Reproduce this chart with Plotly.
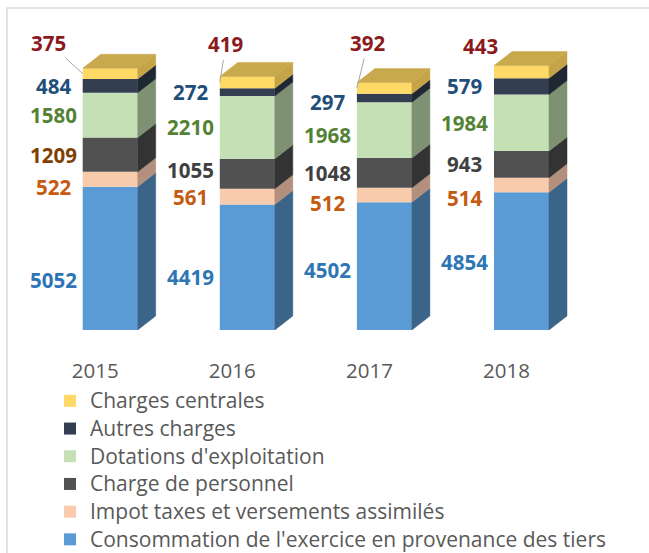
import plotly.graph_objects as go

# ---- data -------------------------------------------------------------
years = ["2015", "2016", "2017", "2018"]
consommation = [5052, 4419, 4502, 4854]
impot = [522, 561, 512, 514]
personnel = [1209, 1055, 1048, 943]
dotations = [1580, 2210, 1968, 1984]
autres = [484, 272, 297, 579]
centrales = [375, 419, 392, 443]

series_names = [
    "Consommation de l'exercice en provenance des tiers",
    "Impot taxes et versements assimilés",
    "Charge de personnel",
    "Dotations d'exploitation",
    "Autres charges",
    "Charges centrales",
]
series_values = [consommation, impot, personnel, dotations, autres, centrales]

# ---- styling ----------------------------------------------------------
front_colors = ["#5b9bd5", "#f8cbad", "#515151", "#c5e0b4", "#333f50", "#ffd966"]
side_colors = ["#3a6488", "#b38f7e", "#333333", "#7f9173", "#1f2733", "#c4a447"]
top_color = "#c8a94c"
label_colors = [
    ["#2e75b6"] * 4,
    ["#c55a11"] * 4,
    ["#7f3f00", "#404040", "#404040", "#404040"],
    ["#548235"] * 4,
    ["#1f4e79"] * 4,
    ["#8b1a1e"] * 4,
]
# small vertical nudges (px, downward) for a few value labels
label_nudge = {
    (0, 0): 22, (0, 1): 10, (0, 2): 4, (0, 3): 1,
    (1, 0): 8, (1, 2): 8, (1, 3): 13,
    (2, 1): -4,
    (3, 2): 5, (4, 2): 4,
}
# pixel offsets of the top labels from their leader-line anchors
top_label_offsets = [(-34, -31), (6, -38), (11, -45), (-14, -26)]
top_label_leader = [True, True, True, False]

FONT = "Open Sans"
TEXT_GREY = "#595959"
LEGEND_TEXT_PX = 21

# ---- geometry ---------------------------------------------------------
W, H = 649, 553
M_L, M_R, M_T, M_B = 10, 10, 20, 223
PLOT_W = W - M_L - M_R
PLOT_H = H - M_T - M_B
CAT_PX = 137.1          # pixels between categories
UNIT_PER_PX = 35.24     # value units per vertical pixel
FIRST_CENTER_PX = 110.2
X0 = -(FIRST_CENTER_PX - M_L) / CAT_PX
X1 = X0 + PLOT_W / CAT_PX
Y1 = PLOT_H * UNIT_PER_PX

BAR_W = 55 / CAT_PX
DEPTH_X = 18 / CAT_PX
DEPTH_Y = 14 * UNIT_PER_PX
TICK_SHIFT = 15 / CAT_PX


def paper_x(px):
    return (px - M_L) / PLOT_W


def paper_y(py):
    return (H - M_B - py) / PLOT_H


xpos = list(range(len(years)))

fig = go.Figure()

# front faces
bases = [[0] * len(years)]
for k, (name, vals) in enumerate(zip(series_names, series_values)):
    fig.add_trace(go.Bar(
        x=xpos, y=vals, base=bases[k], width=BAR_W,
        name='<span style="font-size:%dpx">%s</span>' % (LEGEND_TEXT_PX, name),
        marker=dict(color=front_colors[k], line=dict(width=0)),
        hoverinfo="skip",
    ))
    bases.append([b + v for b, v in zip(bases[k], vals)])

# side faces of each stacked segment
for k, vals in enumerate(series_values):
    xs, ys = [], []
    for i in xpos:
        xr = i + BAR_W / 2
        b = bases[k][i]
        t = b + vals[i]
        xs += [xr, xr + DEPTH_X, xr + DEPTH_X, xr, xr, None]
        ys += [b, b + DEPTH_Y, t + DEPTH_Y, t, b, None]
    fig.add_trace(go.Scatter(
        x=xs, y=ys, mode="lines", fill="toself",
        fillcolor=side_colors[k], line=dict(color=side_colors[k], width=0.5),
        showlegend=False, hoverinfo="skip",
    ))

# top faces
xs, ys = [], []
for i in xpos:
    xl, xr = i - BAR_W / 2, i + BAR_W / 2
    t = bases[-1][i]
    xs += [xl, xl + DEPTH_X, xr + DEPTH_X, xr, xl, None]
    ys += [t, t + DEPTH_Y, t + DEPTH_Y, t, t, None]
fig.add_trace(go.Scatter(
    x=xs, y=ys, mode="lines", fill="toself", fillcolor=top_color,
    line=dict(color=top_color, width=0.5), showlegend=False, hoverinfo="skip",
))

# helper trace carrying the category axis
fig.add_trace(go.Scatter(
    x=xpos, y=[0 for _ in years], xaxis="x2", mode="none",
    showlegend=False, hoverinfo="skip",
))

# value labels
annotations = []
last = len(series_values) - 1
for k, vals in enumerate(series_values):
    for i in xpos:
        mid = bases[k][i] + vals[i] / 2
        font = dict(family=FONT, size=20.5, color=label_colors[k][i])
        text = "<b>%d</b>" % vals[i]
        if k == last:
            ax, ay = top_label_offsets[i]
            annotations.append(dict(
                x=i - BAR_W / 2, y=mid, xref="x", yref="y", text=text, font=font,
                showarrow=True, arrowhead=0, arrowwidth=1, standoff=0,
                arrowcolor="#a6a6a6" if top_label_leader[i] else "rgba(0,0,0,0)",
                ax=ax, ay=ay,
            ))
        else:
            annotations.append(dict(
                x=i, y=mid, xref="x", yref="y", text=text, font=font,
                showarrow=False, xanchor="center", yanchor="middle",
                xshift=-57, yshift=-label_nudge.get((k, i), 0),
            ))

fig.update_layout(
    width=W, height=H,
    margin=dict(l=M_L, r=M_R, t=M_T, b=M_B, autoexpand=False),
    paper_bgcolor="white", plot_bgcolor="white",
    barmode="overlay",
    font=dict(family=FONT, color=TEXT_GREY),
    xaxis=dict(range=[X0, X1], visible=False, fixedrange=True),
    xaxis2=dict(
        range=[X0 + TICK_SHIFT, X1 + TICK_SHIFT], overlaying="x", anchor="y",
        side="bottom", tickvals=xpos, ticktext=years, ticks="",
        showgrid=False, zeroline=False, showline=False, automargin=False,
        tickfont=dict(family=FONT, size=20.5, color=TEXT_GREY),
        ticklabelstandoff=26,
    ),
    yaxis=dict(range=[0, Y1], visible=False, fixedrange=True),
    legend=dict(
        x=paper_x(50), y=paper_y(382), xanchor="left", yanchor="top",
        traceorder="reversed", font=dict(family=FONT, size=19, color=TEXT_GREY),
        bgcolor="rgba(0,0,0,0)", tracegroupgap=0,
    ),
    annotations=annotations,
    shapes=[dict(
        type="rect", xref="paper", yref="paper",
        x0=paper_x(7), x1=paper_x(W + 40), y0=paper_y(8), y1=paper_y(H + 40),
        line=dict(color="#d9d9d9", width=1.5), fillcolor="rgba(0,0,0,0)",
        layer="below",
    )],
)

fig.write_html("out.html")
